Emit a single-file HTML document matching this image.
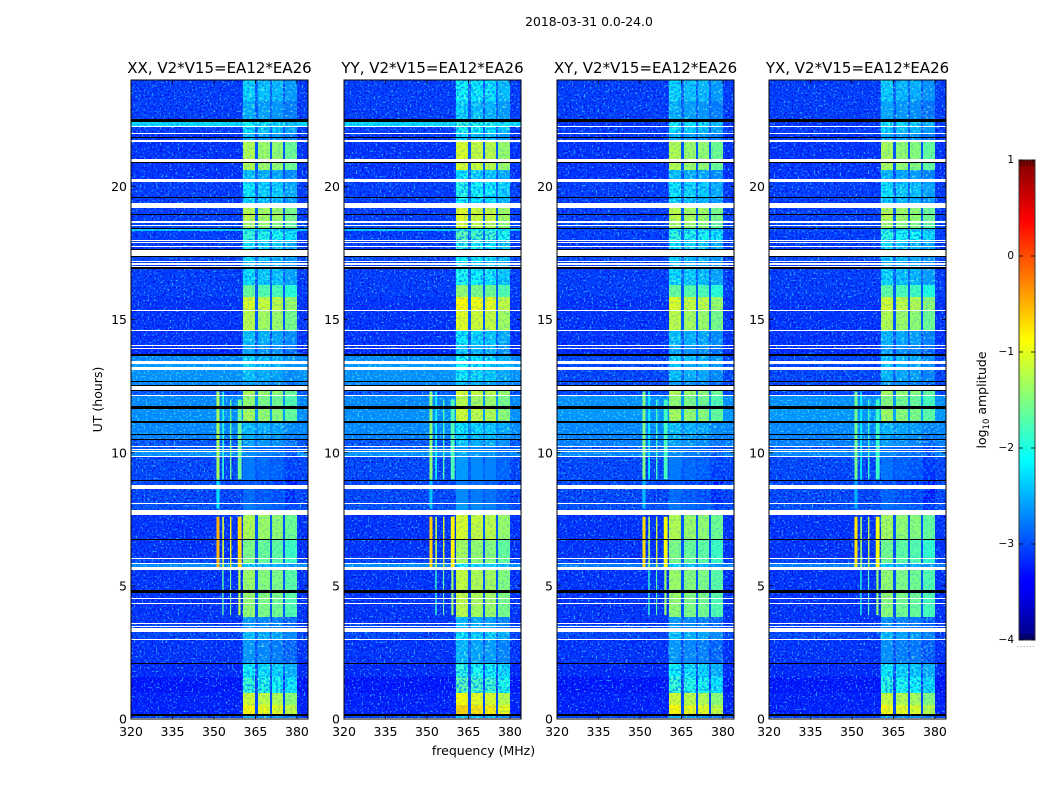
<!DOCTYPE html>
<html lang="en">
<head>
<meta charset="utf-8">
<title>2018-03-31 0.0-24.0</title>
<style>
html,body{margin:0;padding:0;background:#fff;}
svg{display:block;font-family:"DejaVu Sans","Liberation Sans",sans-serif;fill:#000;}
</style>
</head>
<body>
<svg id="chart" xmlns="http://www.w3.org/2000/svg" width="1050" height="800" viewBox="0 0 1050 800">
  <defs>
    <filter id="noise-light" x="0" y="0" width="100%" height="100%">
      <feTurbulence type="fractalNoise" baseFrequency="0.5 0.55" numOctaves="1" seed="4"/>
      <feColorMatrix type="matrix" values="0 0 0 0 0.05  0 0 0 0 0.55  0 0 0 0 1  6 0 0 0 -3.4"/>
    </filter>
    <filter id="noise-dark" x="0" y="0" width="100%" height="100%">
      <feTurbulence type="fractalNoise" baseFrequency="0.5 0.55" numOctaves="1" seed="11"/>
      <feColorMatrix type="matrix" values="0 0 0 0 0  0 0 0 0 0  0 0 0 0 0.72  0 6 0 0 -3.05"/>
    </filter>
    <filter id="noise-row-light" x="0" y="0" width="100%" height="100%">
      <feTurbulence type="fractalNoise" baseFrequency="0.5 0.55" numOctaves="1" seed="23"/>
      <feColorMatrix type="matrix" values="0 0 0 0 0.1  0 0 0 0 0.9  0 0 0 0 1  6 0 0 0 -3.2"/>
    </filter>
    <filter id="noise-window-light" x="0" y="0" width="100%" height="100%">
      <feTurbulence type="fractalNoise" baseFrequency="0.42 0.46" numOctaves="1" seed="7"/>
      <feColorMatrix type="matrix" values="0 0 0 0 0.3  0 0 0 0 1  0 0 0 0 0.65  6 0 0 0 -3.1"/>
    </filter>
    <filter id="noise-window-dark" x="0" y="0" width="100%" height="100%">
      <feTurbulence type="fractalNoise" baseFrequency="0.42 0.46" numOctaves="1" seed="19"/>
      <feColorMatrix type="matrix" values="0 0 0 0 0  0 0 0 0 0.25  0 0 0 0 1  0 7 0 0 -3.4"/>
    </filter>
    <linearGradient id="jet-gradient" x1="0" y1="1" x2="0" y2="0">
      <stop offset="0" stop-color="#00007f"/>
      <stop offset="0.11" stop-color="#0000ff"/>
      <stop offset="0.125" stop-color="#0000ff"/>
      <stop offset="0.375" stop-color="#00ffff"/>
      <stop offset="0.625" stop-color="#ffff00"/>
      <stop offset="0.875" stop-color="#ff0000"/>
      <stop offset="1" stop-color="#7f0000"/>
    </linearGradient>
  </defs>
  <text x="589" y="26" font-size="12.4" text-anchor="middle">2018-03-31 0.0-24.0</text>
  <text x="483.5" y="755" font-size="12.5" text-anchor="middle">frequency (MHz)</text>
  <text x="102" y="399.5" font-size="12.5" text-anchor="middle" transform="rotate(-90 102 399.5)">UT (hours)</text>
  <text x="986" y="400" font-size="12.5" text-anchor="middle" transform="rotate(-90 986 400)">log<tspan font-size="8.5" dy="3">10</tspan><tspan dy="-3"> amplitude</tspan></text>
  <text x="1026" y="647" font-size="7" letter-spacing="0.8" text-anchor="middle" fill="#666">......</text>
  <g id="panels"></g>
  <g id="colorbar"></g>
</svg>
<script>
/* panel categories */
var panelTitles = ["XX, V2*V15=EA12*EA26", "YY, V2*V15=EA12*EA26", "XY, V2*V15=EA12*EA26", "YX, V2*V15=EA12*EA26"];
var panelIsCross = [false, false, true, true];
var panelWindowGain = [0, 0.2, 0, -0.05];
var panelRfiGain = [0, -0.15, -0.2, -0.25];

/* axis ticks */
var freqTicks = [320, 335, 350, 365, 380];
var hourTicks = [0, 5, 10, 15, 20];
var colorTicks = [1, 0, -1, -2, -3, -4];

/* frequency columns (MHz); odd columns are spectral windows or gaps */
var freqEdges = [320, 360.4, 365.0, 366.0, 370.1, 371.1, 374.8, 375.8, 380, 384];
var columnWindow = [-1, 0, -1, 1, -1, 2, -1, 3, -1];
var windowOffset = [0.1, 0, -0.05, -0.22];

/* time rows: start hour, then log10 amplitude. null = flagged (no data), -4 = dark flagged row */
var rowStart = [
 0.00,0.04,0.13,0.18,0.52,0.97,1.31,1.59,2.07,2.10,
 2.98,3.00,3.27,3.41,3.47,3.49,3.56,3.59,3.83,4.32,
 4.36,4.51,4.54,4.75,4.84,5.60,5.72,5.82,5.86,6.03,
 6.06,6.72,6.76,7.66,7.85,8.06,8.11,8.64,8.80,8.94,
 8.97,9.84,9.88,10.01,10.05,10.10,10.14,10.23,10.27,10.48,
 10.51,10.66,10.70,11.12,11.20,11.66,11.77,12.13,12.17,12.31,
 12.35,12.50,12.54,12.64,12.69,13.11,13.22,13.33,13.44,13.63,
 13.71,13.92,13.95,14.01,14.04,14.57,14.61,15.32,15.36,15.85,
 16.30,16.92,16.96,17.01,17.07,17.11,17.17,17.21,17.37,17.39,
 17.61,17.65,17.74,17.77,17.86,17.91,17.95,17.99,18.32,18.40,
 18.44,18.51,18.57,18.64,18.70,18.93,18.98,19.21,19.38,19.58,
 19.62,20.18,20.29,20.62,20.90,20.93,21.05,21.67,21.76,21.84,
 21.87,21.97,22.01,22.23,22.27,22.42,22.53,23.20
];
var rowBackground = [
 null,-3.0,-4,-3.2,-3.2,-3.25,-3.25,-3.15,-4,-3.1,
 null,-3.0,null,-3.0,null,-3.0,null,-3.1,-3.1,null,
 -3.1,null,-3.1,-4,-3.1,null,-2.7,null,-3.0,null,
 -3.1,-4,-3.1,null,-2.95,null,-3.0,null,-3.0,-4,
 -3.0,null,-2.7,null,-2.8,null,-2.9,null,-2.9,-4,
 -2.8,-4,-2.75,-4,-2.7,-4,-2.75,null,-2.9,-4,
 null,-4,-2.75,-4,-2.68,null,-2.62,null,-2.75,-4,
 -3.15,null,-3.1,null,-3.1,null,-3.1,null,-3.1,-3.05,
 -3.05,-4,null,-3.05,null,-3.05,null,-3.0,-4,null,
 -4,-3.05,null,-3.05,null,-3.05,null,-3.05,-2.4,-4,
 -3.0,null,-3.0,null,-3.05,-4,-3.05,null,-3.05,-4,
 -3.05,null,-3.1,-3.1,-4,null,-3.1,null,-3.05,-4,
 -3.1,null,-3.05,null,-2.3,-4,-3.05,-3.05
];
var rowBackgroundCross = [
 null,-3.0,-4,-3.2,-3.2,-3.25,-3.25,-3.15,-4,-3.1,
 null,-3.0,null,-3.0,null,-3.0,null,-3.1,-3.1,null,
 -3.1,null,-3.1,-4,-3.1,null,-2.8,null,-3.0,null,
 -3.1,-4,-3.1,null,-2.95,null,-3.0,null,-3.0,-4,
 -3.0,null,-2.75,null,-2.8,null,-2.9,null,-2.8,-4,
 -2.8,-4,-2.75,-4,-2.65,-4,-2.7,null,-3.0,-4,
 null,-4,-3.0,-4,-3.0,null,-3.0,null,-3.0,-4,
 -3.15,null,-3.1,null,-3.1,null,-3.1,null,-3.1,-3.05,
 -3.05,-4,null,-3.05,null,-3.05,null,-3.0,-4,null,
 -4,-3.05,null,-3.05,null,-3.05,null,-3.05,-3.0,-4,
 -3.0,null,-3.0,null,-3.05,-4,-3.05,null,-3.05,-4,
 -3.05,null,-3.1,-3.1,-4,null,-3.1,null,-3.05,-4,
 -3.1,null,-3.05,null,-3.1,-4,-3.05,-3.05
];
var rowWindow = [
 null,-2.6,-4,-0.95,-1.2,-2.0,-2.0,-2.25,-4,-2.75,
 null,-2.5,null,-2.7,null,-2.7,null,-2.75,-1.5,null,
 -1.5,null,-1.45,-4,-1.45,null,-2.4,null,-1.6,null,
 -1.6,-4,-1.35,null,-2.9,null,-3.0,null,-3.1,-4,
 -2.9,null,-2.8,null,-2.9,null,-2.9,null,-2.65,-4,
 -2.6,-4,-2.5,-4,-1.4,-4,-1.5,null,-1.35,-4,
 null,-4,-2.7,-4,-2.5,null,-2.4,null,-2.4,-4,
 -2.65,null,-2.65,null,-2.5,null,-1.3,null,-1.15,-1.7,
 -2.35,-4,null,-2.5,null,-2.5,null,-2.4,-4,null,
 -4,-2.3,null,-2.3,null,-2.2,null,-2.0,-2.3,-4,
 -1.4,null,-1.4,null,-1.3,-4,-1.3,null,-2.4,-4,
 -2.3,null,-2.5,-1.35,-4,null,-1.35,null,-2.6,-4,
 -2.6,null,-2.35,null,-2.2,-4,-2.6,-2.4
];

/* narrow-band interference */
var rfiFreqLow = [350.9, 353.0, 355.8, 358.6, 353.0, 355.8, 358.8, 350.9, 350.9, 353.0, 355.8, 358.6];
var rfiFreqHigh = [352.0, 353.6, 356.3, 360.0, 353.5, 356.2, 359.6, 352.0, 352.0, 353.6, 356.3, 360.0];
var rfiHourStart = [5.7, 5.7, 5.7, 5.7, 3.9, 3.9, 3.9, 7.9, 9.0, 9.0, 9.0, 9.0];
var rfiHourEnd = [7.6, 7.6, 7.6, 7.6, 5.7, 5.7, 5.7, 9.0, 12.3, 12.3, 12.0, 12.0];
var rfiLevel = [-0.5, -1.1, -0.9, -0.7, -1.7, -1.5, -1.2, -2.25, -1.3, -1.9, -1.6, -1.6];

var SVG_NS = "http://www.w3.org/2000/svg";
var panelLeft = [131, 344, 557, 769];
var panelWidth = 177;
var plotTop = 80;
var plotBottom = 719;
var dimWindowLimit = -1.7;
var faintWindowLimit = -2.85;
var lightBackgroundLimit = -2.85;

function make(tag, attrs, parent) {
  var el = document.createElementNS(SVG_NS, tag);
  for (var k in attrs) { el.setAttribute(k, attrs[k]); }
  parent.appendChild(el);
  return el;
}
function clip01(v) { return Math.max(0, Math.min(1, v)); }
function jetColor(level) {
  if (level <= -4) { return "#000"; }
  var x = clip01((level + 4) / 5);
  var r = clip01(Math.min(4 * x - 1.5, -4 * x + 4.5));
  var g = clip01(Math.min(4 * x - 0.5, -4 * x + 3.5));
  var b = clip01(Math.min(4 * x + 0.5, -4 * x + 2.5));
  return "rgb(" + Math.round(r * 255) + "," + Math.round(g * 255) + "," + Math.round(b * 255) + ")";
}
function xScale(p, mhz) { return panelLeft[p] + (mhz - 320) / (384 - 320) * panelWidth; }
function yScale(hour) { return plotBottom - hour / 24 * (plotBottom - plotTop); }
function rowEnd(i) { return i + 1 < rowStart.length ? rowStart[i + 1] : 24; }

var panelsRoot = document.getElementById("panels");

panelTitles.forEach(function (title, p) {
  var group = make("g", {}, panelsRoot);
  
  
  var bgList = panelIsCross[p] ? rowBackgroundCross : rowBackground;

  var cellGroup = make("g", { "shape-rendering": "crispEdges" }, group);
  
  

  rowStart.forEach(function (start, i) {
    var bg = bgList[i];
    if (bg === null || bg === -4) { return; }
    var y0 = Math.round(yScale(rowEnd(i)));
    var y1 = Math.round(yScale(start));
    for (var c = 0; c < columnWindow.length; c++) {
      var level;
      var win = columnWindow[c];
      var base = rowWindow[i] + panelWindowGain[p];
      if (c === 0 || c === columnWindow.length - 1) { level = bg; }
      else if (win < 0) { level = bg + 0.08 * (base - bg); }
      else { level = base + windowOffset[win]; }
      var xa = Math.round(xScale(p, freqEdges[c]));
      var xb = Math.round(xScale(p, freqEdges[c + 1]));
      var cell = make("rect", { x: xa, y: y0, width: xb - xa, height: Math.max(1, y1 - y0), fill: jetColor(level) }, cellGroup);
      
      
    }
  });

  /* grain over the off-window background */
  var bgLeftX = panelLeft[p];
  var bgLeftWidth = Math.round(xScale(p, freqEdges[1])) - panelLeft[p];
  var bgRightX = Math.round(xScale(p, freqEdges[8]));
  var bgRightWidth = panelLeft[p] + panelWidth - bgRightX;
  [[bgLeftX, bgLeftWidth], [bgRightX, bgRightWidth]].forEach(function (span) {
    var grainA = make("rect", { x: span[0], y: plotTop, width: span[1], height: plotBottom - plotTop, filter: "url(#noise-light)", opacity: 0.8 }, group);
    
    
    var grainB = make("rect", { x: span[0], y: plotTop, width: span[1], height: plotBottom - plotTop, filter: "url(#noise-dark)", opacity: 0.65 }, group);
    
    

    /* rows with a raised noise floor get a paler, cyan-flecked grain */
    rowStart.forEach(function (start, i) {
      var bg = bgList[i];
      if (bg === null || bg === -4 || bg <= lightBackgroundLimit) { return; }
      var y0 = Math.round(yScale(rowEnd(i)));
      var y1 = Math.round(yScale(start));
      var h = Math.max(1, y1 - y0);
      var repaint = make("rect", { x: span[0], y: y0, width: span[1], height: h, fill: jetColor(bg), "shape-rendering": "crispEdges" }, group);
      
      
      var fleck = make("rect", { x: span[0], y: y0, width: span[1], height: h, filter: "url(#noise-row-light)", opacity: 0.6 }, group);
      
      
      var blot = make("rect", { x: span[0], y: y0, width: span[1], height: h, filter: "url(#noise-window-dark)", opacity: 0.45 }, group);
      
      
    });
  });

  /* grain over the spectral windows, strong where the signal is faint */
  rowStart.forEach(function (start, i) {
    var win = rowWindow[i];
    if (win === null || win === -4) { return; }
    var y0 = Math.round(yScale(rowEnd(i)));
    var y1 = Math.round(yScale(start));
    var xa = xScale(p, freqEdges[1]);
    var xb = xScale(p, freqEdges[8]);
    var dim = win < dimWindowLimit;
    if (dim && win > faintWindowLimit) {
      var sparkle = make("rect", { x: xa, y: y0, width: xb - xa, height: Math.max(1, y1 - y0), filter: "url(#noise-window-light)", opacity: 0.55 }, group);
      
      
    }
    var shade = make("rect", { x: xa, y: y0, width: xb - xa, height: Math.max(1, y1 - y0), filter: "url(#noise-window-dark)", opacity: dim ? 0.8 : 0.22 }, group);
    
    
  });

  rfiFreqLow.forEach(function (low, r) {
    var xa = xScale(p, low);
    var xb = xScale(p, rfiFreqHigh[r]);
    var ya = yScale(rfiHourEnd[r]);
    var yb = yScale(rfiHourStart[r]);
    var line = make("rect", { x: xa, y: ya, width: xb - xa, height: yb - ya, fill: jetColor(rfiLevel[r] + panelRfiGain[p]) }, group);
    
    
  });

  var flagGroup = make("g", { "shape-rendering": "crispEdges" }, group);
  
  
  rowStart.forEach(function (start, i) {
    var bg = bgList[i];
    if (bg !== null && bg !== -4) { return; }
    var y0 = Math.round(yScale(rowEnd(i)));
    var y1 = Math.round(yScale(start));
    var flag = make("rect", { x: panelLeft[p], y: y0, width: panelWidth, height: Math.max(1, y1 - y0), fill: bg === null ? "#fff" : "#000" }, flagGroup);
    
    
  });

  var frame = make("rect", { x: panelLeft[p], y: plotTop, width: panelWidth, height: plotBottom - plotTop, fill: "none", stroke: "#000", "stroke-width": 1 }, group);
  
  

  freqTicks.forEach(function (tick) {
    var x = xScale(p, tick);
    var t1 = make("line", { x1: x, x2: x, y1: plotBottom, y2: plotBottom - 4, stroke: "#000", "stroke-width": 0.8 }, group);
    
    
    var t2 = make("line", { x1: x, x2: x, y1: plotTop, y2: plotTop + 4, stroke: "#000", "stroke-width": 0.8 }, group);
    
    
    var label = make("text", { x: x, y: 736, "font-size": 12.5, "text-anchor": "middle" }, group);
    
    
    label.textContent = String(tick);
  });

  hourTicks.forEach(function (tick) {
    var y = yScale(tick);
    var t1 = make("line", { x1: panelLeft[p], x2: panelLeft[p] + 4, y1: y, y2: y, stroke: "#000", "stroke-width": 0.8 }, group);
    
    
    var t2 = make("line", { x1: panelLeft[p] + panelWidth, x2: panelLeft[p] + panelWidth - 4, y1: y, y2: y, stroke: "#000", "stroke-width": 0.8 }, group);
    
    
    var label = make("text", { x: panelLeft[p] - 4, y: y + 4.5, "font-size": 12.5, "text-anchor": "end" }, group);
    
    
    label.textContent = String(tick);
  });

  var heading = make("text", { x: panelLeft[p] + panelWidth / 2, y: 73, "font-size": 15, "text-anchor": "middle" }, group);
  
  
  heading.textContent = title;
});

var cbRoot = document.getElementById("colorbar");
var cbX = 1019, cbW = 16, cbTop = 160, cbBottom = 640;
function cbScale(level) { return cbBottom - (level + 4) / 5 * (cbBottom - cbTop); }

var cbFill = make("rect", { x: cbX, y: cbTop, width: cbW, height: cbBottom - cbTop, fill: "url(#jet-gradient)", stroke: "#333", "stroke-width": 1 }, cbRoot);



for (var mx = cbX + 2; mx < cbX + cbW; mx += 3) {
  var mt = make("line", { x1: mx, x2: mx, y1: cbTop, y2: cbTop + 6, stroke: "#000", "stroke-width": 0.6 }, cbRoot);
  
  
  var mb = make("line", { x1: mx, x2: mx, y1: cbBottom, y2: cbBottom - 6, stroke: "#000", "stroke-width": 0.6 }, cbRoot);
  
  
}

colorTicks.forEach(function (tick) {
  var y = cbScale(tick);
  var a = make("line", { x1: cbX, x2: cbX + 4, y1: y, y2: y, stroke: "#000", "stroke-width": 0.8 }, cbRoot);
  
  
  var b = make("line", { x1: cbX + cbW, x2: cbX + cbW - 4, y1: y, y2: y, stroke: "#000", "stroke-width": 0.8 }, cbRoot);
  
  
  var label = make("text", { x: cbX - 5, y: y + 3, "font-size": 10.5, "text-anchor": "end" }, cbRoot);
  
  
  label.textContent = tick < 0 ? "\u2212" + Math.abs(tick) : String(tick);
});
</script>
</body>
</html>
